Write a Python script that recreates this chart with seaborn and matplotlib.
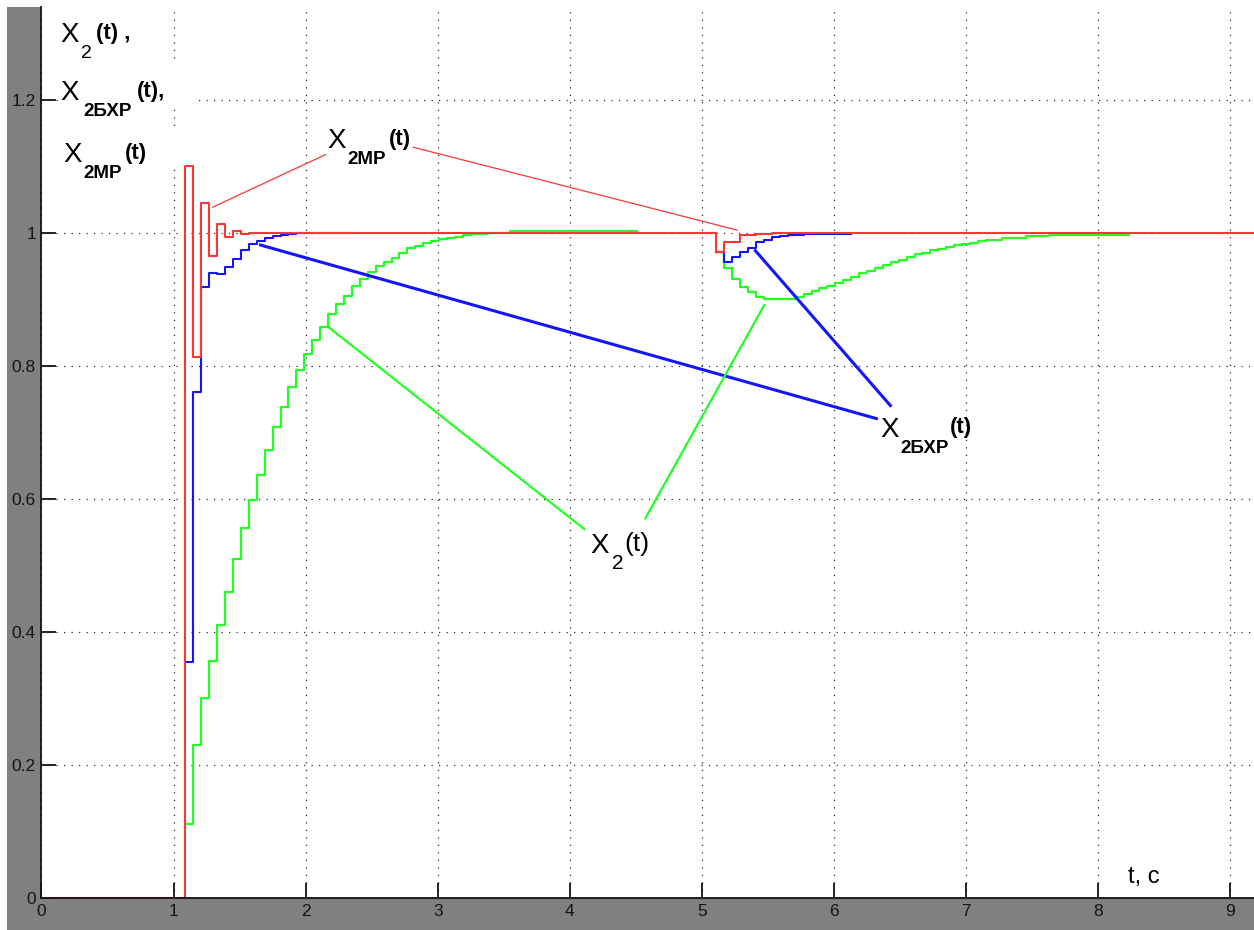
import numpy as np
import pandas as pd
import matplotlib
matplotlib.use("Agg")
import matplotlib.pyplot as plt
from matplotlib.patches import Rectangle
import seaborn as sns

# ---- sampling grid of the discrete simulation ----
t_step = 1.09      # set-point step
t_load = 5.11      # load disturbance
dt = 0.06          # sampling period, s
t_end = 9.18

# X2MP(t) (red): response of the modal controller
x2mp_step = [1.101, 0.813, 1.045, 0.965, 1.014, 0.994, 1.0035, 0.999]
x2mp_load = [0.971, 0.987, 0.987, 0.9965, 0.9965, 0.9985, 0.9985]

# X2БХР(t) (blue)
x2bxr_step = [0.355, 0.761, 0.919, 0.940, 0.938, 0.949, 0.961, 0.975, 0.983,
              0.988, 0.992, 0.995, 0.9975, 0.9985, 0.9995, 0.9995, 0.9995,
              0.9995, 0.9995, 0.9995, 0.9995]
x2bxr_load = [0.971, 0.956, 0.964, 0.971, 0.978, 0.986, 0.990, 0.9935, 0.996,
              0.9975, 0.9975, 0.999, 0.999, 0.999, 0.999, 0.999, 0.999]

# X2(t) (green)
x2_step = [0.111, 0.230, 0.301, 0.357, 0.410, 0.460, 0.510, 0.556, 0.598,
           0.636, 0.674, 0.708, 0.739, 0.768, 0.794, 0.818, 0.839, 0.859,
           0.878, 0.894, 0.906, 0.921, 0.931, 0.942, 0.950, 0.957, 0.963,
           0.970, 0.977, 0.981, 0.985, 0.988, 0.9905, 0.9925, 0.9945, 0.9965,
           0.999, 0.999, 1.0, 1.0, 1.0,
           1.0025, 1.0025, 1.0025, 1.0025, 1.0025, 1.0025, 1.0025, 1.0025,
           1.0025, 1.0025, 1.0025, 1.0025, 1.0025, 1.0025, 1.0025, 1.0025]
x2_load = [0.972, 0.948, 0.931, 0.9195, 0.911, 0.9045, 0.9006, 0.9006, 0.9006,
           0.9006, 0.9045, 0.9085, 0.9135, 0.917, 0.9205, 0.9255, 0.9295,
           0.9345, 0.9395, 0.9435, 0.947, 0.952, 0.956, 0.960, 0.964, 0.968,
           0.9705, 0.974, 0.9765, 0.979, 0.9815, 0.9835, 0.9855, 0.9875,
           0.9895, 0.9895, 0.9925, 0.9925, 0.9925, 0.9955, 0.9955, 0.9955,
           0.9975, 0.9975, 0.9975, 0.9975, 0.9975, 0.9975, 0.9975, 0.9975,
           0.9975, 0.9975]

x_ticks = [0, 1, 2, 3, 4, 5, 6, 7, 8, 9]
y_ticks = [0, 0.2, 0.4, 0.6, 0.8, 1.0, 1.2]
y_tick_labels = ["0", "0.2", "0.4", "0.6", "0.8", "1", "1.2"]

# leader lines of the curve labels, (t0, y0, t1, y1)
leaders_mp = [(1.297, 1.039, 2.150, 1.118), (2.816, 1.129, 5.266, 1.0045)]
leaders_bxr = [(1.658, 0.982, 6.321, 0.721), (5.405, 0.9735, 6.427, 0.7406)]
leaders_x2 = [(2.167, 0.8595, 4.111, 0.5547), (5.473, 0.892, 4.572, 0.571)]

RED = "#ff3535"
BLUE = "#1414ff"
GREEN = "#22ff22"
GRAY = "#808080"
INK = "#141414"


def stairs(t0, vals):
    t = t0 + dt * np.arange(len(vals) + 1)
    return pd.DataFrame({"t": t, "v": list(vals) + [vals[-1]]})


def red_trace():
    n1, n2 = len(x2mp_step), len(x2mp_load)
    t = ([0.0] + [t_step + k * dt for k in range(n1 + 1)]
         + [t_load + k * dt for k in range(n2 + 1)] + [t_end])
    v = [0.0] + x2mp_step + [1.0] + x2mp_load + [1.0, 1.0]
    return pd.DataFrame({"t": t, "v": v})


W, H = 1254, 930
fig = plt.figure(figsize=(W / 100, H / 100), dpi=100, facecolor="white")
fig.patches.append(Rectangle((7 / W, 0), 1 - 7 / W, (H - 7) / H,
                             transform=fig.transFigure, facecolor=GRAY,
                             edgecolor="none", zorder=-10))
ax = fig.add_axes([41.5 / W, 32 / H, (W - 41.5) / W, (898 - 7) / H])
ax.set_facecolor("white")
ax.set_axisbelow(True)

line_kw = dict(drawstyle="steps-post", estimator=None, errorbar=None,
               sort=False, legend=False, ax=ax)
sns.lineplot(data=stairs(t_step, x2_step), x="t", y="v", color=GREEN, lw=1.6, **line_kw)
sns.lineplot(data=stairs(t_load, x2_load), x="t", y="v", color=GREEN, lw=1.6, **line_kw)
sns.lineplot(data=stairs(t_step, x2bxr_step), x="t", y="v", color=BLUE, lw=1.5, **line_kw)
sns.lineplot(data=stairs(t_load, x2bxr_load), x="t", y="v", color=BLUE, lw=1.5, **line_kw)
sns.lineplot(data=red_trace(), x="t", y="v", color=RED, lw=1.5, **line_kw)

for (a, b, c, d) in leaders_mp:
    ax.plot([a, c], [b, d], color=RED, lw=0.9, zorder=4)
for (a, b, c, d) in leaders_bxr:
    ax.plot([a, c], [b, d], color=BLUE, lw=2.2, zorder=4)
for (a, b, c, d) in leaders_x2:
    ax.plot([a, c], [b, d], color=GREEN, lw=1.6, zorder=4)

ax.set_xlim(0, t_end)
ax.set_ylim(0, 1.34)
ax.set_xticks(x_ticks)
ax.set_xticklabels([str(v) for v in x_ticks])
ax.set_yticks(y_ticks)
ax.set_yticklabels(y_tick_labels)
ax.set_xlabel("")
ax.set_ylabel("")
ax.grid(True, color="#2a2a2a", linestyle=(0, (1, 5)), linewidth=0.9)
ax.tick_params(direction="in", length=10.5, width=1.3, colors=INK,
               labelsize=12.5, pad=4)
for lab in ax.get_xticklabels() + ax.get_yticklabels():
    lab.set_family("Liberation Sans")
for s in ("top", "right"):
    ax.spines[s].set_visible(False)
for s in ("left", "bottom"):
    ax.spines[s].set_color(INK)
    ax.spines[s].set_linewidth(1.3)
    ax.spines[s].set_zorder(5)

# white backing of the axis caption
for (x0, y0, x1, y1) in [(58, 63, 197, 105), (58, 130, 180, 165)]:
    ax.add_patch(Rectangle((x0 / W, 1 - y1 / H), (x1 - x0) / W, (y1 - y0) / H,
                           transform=fig.transFigure, facecolor="white",
                           edgecolor="none", zorder=1))


def piece(x, y, s, size, bold=False):
    fig.text(x / W, 1 - y / H, s, fontsize=size,
             fontweight="bold" if bold else "normal", ha="left",
             va="baseline", family="Liberation Sans", color="black")


def label(x, y, sub, tail, sub_bold=True, tail_bold=True, sub_dx=21,
          tail_dx=None, x_size=20, sub_size=13.5, tail_size=16, tail_dy=-3):
    piece(x, y, "X", x_size)
    piece(x + sub_dx, y + 16, sub, sub_size, sub_bold)
    piece(x + tail_dx, y + tail_dy, tail, tail_size, tail_bold)


# axis caption
label(60, 42, "2", "(t) ,", sub_bold=False, sub_dx=21, tail_dx=36,
      sub_size=14)
label(60, 100, "2БХР", "(t),", sub_dx=23, tail_dx=77)
label(63, 162, "2МР", "(t)", sub_dx=20, tail_dx=62)

# curve labels
label(327, 148, "2МР", "(t)", sub_dx=20, tail_dx=62)
label(880, 437, "2БХР", "(t)", sub_dx=20, tail_dx=70, tail_dy=-4)
label(590, 553, "2", "(t)", sub_bold=False, tail_bold=False, sub_dx=22,
      tail_dx=34, sub_size=15, tail_size=19, tail_dy=-2)

piece(1128, 883, "t, с", 17)

fig.savefig("out.png", dpi=100, facecolor=fig.get_facecolor())
